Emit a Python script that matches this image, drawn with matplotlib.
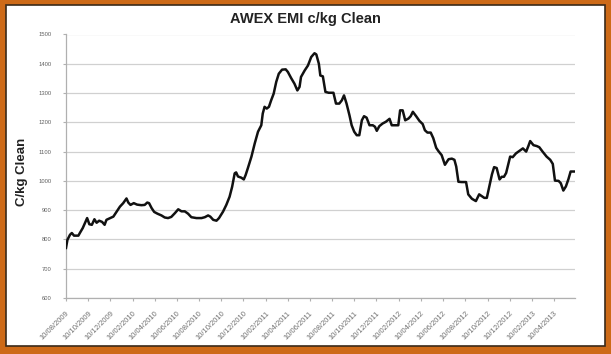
import matplotlib
matplotlib.use("Agg")
import matplotlib.pyplot as plt
from matplotlib.patches import Rectangle
import pandas as pd

dates = [
    "2009-08-10", "2009-08-14", "2009-08-21", "2009-08-26", "2009-09-01", "2009-09-13", "2009-09-17",
    "2009-09-25", "2009-10-01", "2009-10-07", "2009-10-13", "2009-10-20", "2009-10-27", "2009-11-02",
    "2009-11-09", "2009-11-17", "2009-11-24", "2009-11-29", "2009-12-09", "2009-12-18", "2009-12-27",
    "2010-01-05", "2010-01-14", "2010-01-23", "2010-01-28", "2010-02-03", "2010-02-12", "2010-02-21",
    "2010-03-05", "2010-03-14", "2010-03-21", "2010-03-26", "2010-04-02", "2010-04-09", "2010-04-18",
    "2010-04-29", "2010-05-08", "2010-05-17", "2010-05-26", "2010-06-05", "2010-06-14", "2010-06-23",
    "2010-07-02", "2010-07-11", "2010-07-20", "2010-08-03", "2010-08-17", "2010-08-26", "2010-09-04",
    "2010-09-10", "2010-09-18", "2010-09-27", "2010-10-04", "2010-10-15", "2010-10-24", "2010-11-02",
    "2010-11-09", "2010-11-16", "2010-11-20", "2010-11-25", "2010-12-04", "2010-12-11", "2010-12-16",
    "2010-12-22", "2011-01-01", "2011-01-10", "2011-01-19", "2011-01-28", "2011-02-01", "2011-02-06",
    "2011-02-12", "2011-02-18", "2011-02-24", "2011-03-03", "2011-03-10", "2011-03-17", "2011-03-26",
    "2011-04-05", "2011-04-11", "2011-04-20", "2011-04-29", "2011-05-07", "2011-05-13", "2011-05-17",
    "2011-05-27", "2011-06-05", "2011-06-14", "2011-06-23", "2011-06-28", "2011-07-05", "2011-07-09",
    "2011-07-16", "2011-07-23", "2011-08-01", "2011-08-14", "2011-08-21", "2011-08-30", "2011-09-06",
    "2011-09-12", "2011-09-19", "2011-09-27", "2011-10-03", "2011-10-10", "2011-10-17", "2011-10-24",
    "2011-10-31", "2011-11-06", "2011-11-13", "2011-11-21", "2011-11-30", "2011-12-06", "2011-12-11",
    "2011-12-18", "2011-12-27", "2012-01-05", "2012-01-15", "2012-01-21", "2012-01-30", "2012-02-08",
    "2012-02-13", "2012-02-20", "2012-02-27", "2012-03-07", "2012-03-13", "2012-03-19", "2012-03-28",
    "2012-04-06", "2012-04-15", "2012-04-21", "2012-04-28", "2012-05-07", "2012-05-14", "2012-05-22",
    "2012-05-28", "2012-06-06", "2012-06-15", "2012-06-25", "2012-07-04", "2012-07-11", "2012-07-16",
    "2012-07-22", "2012-07-31", "2012-08-12", "2012-08-18", "2012-08-28", "2012-09-08", "2012-09-17",
    "2012-09-24", "2012-10-01", "2012-10-08", "2012-10-15", "2012-10-22", "2012-10-28", "2012-11-04",
    "2012-11-12", "2012-11-18", "2012-11-24", "2012-11-30", "2012-12-11", "2012-12-18", "2012-12-27",
    "2013-01-05", "2013-01-15", "2013-01-24", "2013-01-30", "2013-02-04", "2013-02-13", "2013-02-22",
    "2013-03-01", "2013-03-10", "2013-03-21", "2013-03-31", "2013-04-07", "2013-04-13", "2013-04-23",
    "2013-04-29", "2013-05-06", "2013-05-13", "2013-05-20", "2013-05-26", "2013-06-04",
]
emi = [
    771, 799, 816, 822, 813, 813, 822,
    839, 856, 873, 852, 850, 869, 857,
    864, 860, 850, 867, 873, 878, 895,
    912, 924, 940, 926, 918, 924, 919,
    917, 918, 926, 924, 907, 894, 888,
    882, 875, 873, 877, 890, 903, 896,
    896, 888, 876, 873, 873, 876, 882,
    878, 867, 864, 873, 895, 918, 946,
    980, 1026, 1029, 1015, 1011, 1005, 1020,
    1043, 1083, 1128, 1168, 1190, 1230, 1253,
    1247, 1253, 1275, 1298, 1338, 1366, 1380,
    1381, 1372, 1351, 1332, 1309, 1321, 1355,
    1377, 1394, 1423, 1436, 1432, 1400, 1360,
    1357, 1304, 1301, 1301, 1264, 1264, 1275,
    1292, 1264, 1224, 1190, 1168, 1156, 1156,
    1207, 1221, 1216, 1190, 1190, 1185, 1171,
    1187, 1196, 1202, 1212, 1190, 1190, 1190,
    1241, 1241, 1207, 1213, 1221, 1236, 1221,
    1205, 1194, 1173, 1165, 1165, 1146, 1113,
    1102, 1088, 1055, 1074, 1076, 1072, 1049,
    997, 996, 996, 954, 939, 931, 954,
    948, 942, 942, 982, 1022, 1047, 1044,
    1005, 1014, 1014, 1027, 1083, 1081, 1094,
    1102, 1111, 1100, 1119, 1136, 1122, 1119,
    1115, 1100, 1083, 1072, 1058, 1001, 1000,
    992, 967, 981, 1006, 1032, 1032,
]
tick_dates = [
    "2009-08-10", "2009-10-10", "2009-12-10", "2010-02-10", "2010-04-10", "2010-06-10",
    "2010-08-10", "2010-10-10", "2010-12-10", "2011-02-10", "2011-04-10", "2011-06-10",
    "2011-08-10", "2011-10-10", "2011-12-10", "2012-02-10", "2012-04-10", "2012-06-10",
    "2012-08-10", "2012-10-10", "2012-12-10", "2013-02-10", "2013-04-10",
]
y_ticks = [600, 700, 800, 900, 1000, 1100, 1200, 1300, 1400, 1500]
title = "AWEX EMI c/kg Clean"
ylabel = "C/kg Clean"

plt.rcParams['font.family'] = ['Liberation Sans', 'DejaVu Sans']

fig = plt.figure(figsize=(6.11, 3.54), dpi=100)
fig.patch.set_facecolor('#CD6A18')
fig.patches.append(Rectangle((6 / 611, 8 / 354), 599 / 611, 341 / 354, transform=fig.transFigure,
                             facecolor='white', edgecolor='#3A2A1A', linewidth=1.2, zorder=-10))

ax = fig.add_axes([66 / 611, 1 - 298 / 354, (575 - 66) / 611, (298 - 34.5) / 354])
ax.set_facecolor('none')

x = pd.to_datetime(dates)
ax.plot(x, emi, color='#111111', linewidth=1.8, solid_joinstyle='round', zorder=3)

ax.set_ylim(600, 1500)
ax.set_yticks(y_ticks)
ax.set_yticklabels([str(v) for v in y_ticks], fontsize=4.2, color='#606060')
ax.set_xlim(pd.Timestamp("2009-08-10"), pd.Timestamp("2013-06-07"))
tx = pd.to_datetime(tick_dates)
ax.set_xticks(tx)
ax.set_xticklabels([d.strftime("%d/%m/%Y") for d in tx], fontsize=5.5, color='#707070',
                   rotation=45, ha='right', rotation_mode='anchor')

ax.grid(axis='y', color='#D0D0D0', linewidth=0.9)
ax.set_axisbelow(True)
for s in ['top', 'right']:
    ax.spines[s].set_visible(False)
for s in ['left', 'bottom']:
    ax.spines[s].set_color('#B0B0B0')
    ax.spines[s].set_linewidth(0.9)
ax.tick_params(axis='y', color='#B0B0B0', length=2.5, width=0.8, pad=8)
ax.tick_params(axis='x', color='#B0B0B0', length=2.5, width=0.8, pad=6)

fig.text(305 / 611, 1 - 18.5 / 354, title, ha='center', va='center', fontsize=10.5, fontweight='bold',
         color='#222222')
fig.text(22 / 611, 1 - 172 / 354, ylabel, ha='center', va='center', rotation=90, fontsize=9.5,
         fontweight='bold', color='#222222')

fig.savefig("out.png", dpi=100, facecolor=fig.get_facecolor())
